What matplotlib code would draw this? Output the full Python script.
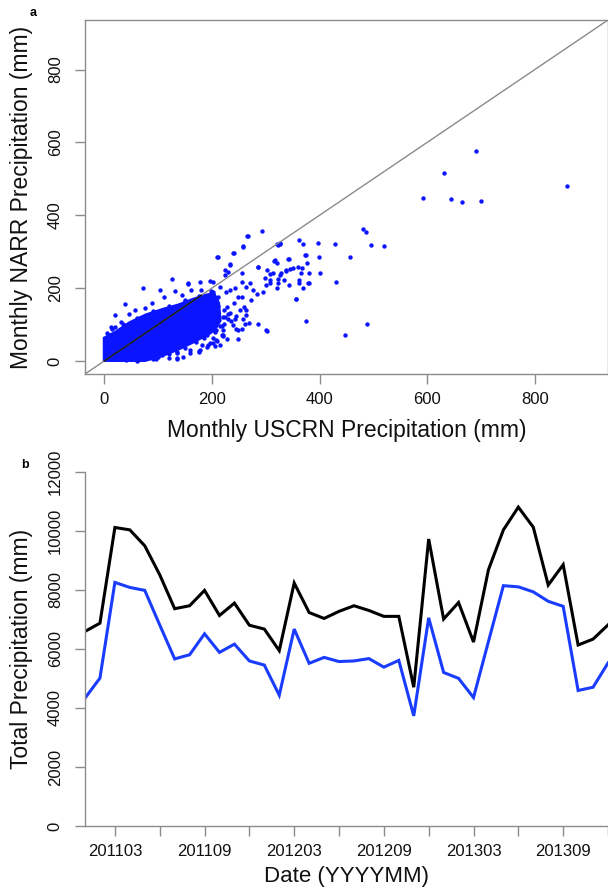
import matplotlib
matplotlib.use("Agg")
import matplotlib.pyplot as plt
import numpy as np

plt.rcParams['font.family'] = ['Liberation Sans', 'DejaVu Sans']

# ---- panel a: monthly USCRN vs NARR precipitation (mm) ----
# outline of the solid, saturated part of the point cloud
core_x = [-3, -3, 20, 45, 76, 107, 138, 162, 187, 205, 215, 218, 210, 199, 169, 138, 107, 76]
core_y = [-3, 65, 83, 108, 130, 145, 158, 172, 184, 190, 160, 110, 90, 74, 50, 28, 10, -3]

# individual points
pts_x = [691, 632, 860, 593, 645, 665, 700, 481, 486, 429, 397, 495, 520, 457, 399,
         373, 377, 381, 400, 430, 380, 370, 374, 489, 448,
         293, 266, 258, 239, 209, 234, 126, 72, 38, 19, 320, 326, 361, 369, 374,
         343, 315, 286, 345, 351, 360, 367, 329, 337, 307, 322, 298, 307, 378, 357,
         301, 286, 264, 255, 244, 221, 210, 201, 193, 176, 135, 135,
         13, 5, 20, 30, 45, 57, 76, 89, 111, 131, 104, 145, 161, 155, 180, 196,
         135, 135, 175, 181, 196, 202, 215, 218, 159, 107,
         267, 258, 240, 323, 327, 212, 233, 224, 230, 255, 285, 302, 317, 320, 342,
         338, 366, 314, 326, 333, 323, 300, 344, 361, 362, 307, 321, 295, 356, 303,
         268, 258, 273, 283, 276, 264, 255, 270, 259, 249, 243, 233, 221, 221,
         206, 190, 178, 207, 239, 227, 233, 215, 202, 224, 202, 178, 156, 196, 249,
         252, 264, 209, 172, 202, 184, 220, 228, 245, 212, 190, 168, 150, 236, 262,
         248, 226, 240, 218, 188, 230, 174, 242, 255, 160, 147, 120, 96, 62, 40,
         8, 15, 35, 60, 90, 120, 150, 175, 198, 212, 222, 225, 215, 205, 185,
         150, 120, 90, 60, 100, 170, 190, 208, 222, 230]
pts_y = [576, 516, 481, 448, 445, 435, 438, 363, 353, 320, 325, 318, 316, 286, 286,
         292, 270, 240, 240, 217, 214, 199, 110, 101, 71,
         358, 342, 314, 296, 285, 267, 226, 199, 157, 126, 320, 324, 332, 321, 291,
         279, 275, 258, 251, 256, 257, 255, 241, 247, 238, 225, 228, 213, 214, 170,
         84, 101, 127, 88, 88, 71, 55, 48, 45, 27, 5, 24,
         94, 76, 94, 108, 128, 140, 144, 160, 175, 192, 195, 181, 196, 210, 196, 219,
         21, 7, 25, 44, 48, 62, 44, 71, 21, 16,
         342, 315, 295, 318, 322, 286, 264, 249, 245, 242, 258, 249, 277, 269, 279,
         249, 240, 240, 236, 222, 213, 208, 208, 222, 213, 222, 199, 190, 169, 83,
         103, 114, 167, 185, 195, 204, 217, 213, 149, 176, 114, 131, 85, 67,
         41, 39, 30, 58, 99, 149, 195, 204, 217, 236, 190, 217, 213, 172, 85,
         140, 140, 121, 94, 85, 68, 120, 60, 122, 150, 160, 140, 168, 110, 100,
         60, 190, 160, 95, 110, 115, 70, 200, 175, 30, 12, 8, 4, 3, 2,
         72, 88, 100, 118, 138, 152, 165, 178, 192, 175, 140, 120, 96, 80, 62,
         36, 18, 5, 1, 12, 52, 70, 84, 100, 128]

# ---- panel b: total monthly precipitation over all stations (mm) ----
months = ['201101', '201102', '201103', '201104', '201105', '201106', '201107', '201108',
          '201109', '201110', '201111', '201112', '201201', '201202', '201203', '201204',
          '201205', '201206', '201207', '201208', '201209', '201210', '201211', '201212',
          '201301', '201302', '201303', '201304', '201305', '201306', '201307', '201308',
          '201309', '201310', '201311', '201312']
narr_total = [6590, 6870, 10110, 10030, 9490, 8510, 7360, 7460, 7980, 7130, 7550, 6800,
              6670, 5940, 8230, 7230, 7030, 7270, 7460, 7300, 7100, 7100, 4700, 9720,
              7010, 7570, 6230, 8680, 10030, 10800, 10120, 8160, 8850, 6130, 6330, 6810]
uscrn_total = [4330, 5010, 8250, 8080, 7980, 6810, 5660, 5800, 6510, 5880, 6160, 5590,
               5450, 4430, 6670, 5510, 5710, 5570, 5590, 5670, 5380, 5610, 3730, 7050,
               5200, 5000, 4350, 6250, 8140, 8100, 7930, 7610, 7440, 4590, 4700, 5520]

frame_col = '#8c8c8c'
pt_col = '#0a14ff'
text_col = '#111111'

fig = plt.figure(figsize=(6.08, 8.93), dpi=100)

# ---------- panel a ----------
ax1 = fig.add_axes([85 / 608, 1 - 374 / 893, 523 / 608, 354 / 893])
ax1.fill(core_x, core_y, color=pt_col, lw=0, zorder=2)
ax1.scatter(pts_x, pts_y, s=10, color=pt_col, linewidths=0, zorder=3)
ax1.plot([-100, 1000], [-100, 1000], color='#8a8a8a', lw=1.0, zorder=4)
# the 1:1 line reads as black where it crosses the solid cloud
edge = max(core_y) - 10
ax1.plot([0, edge], [0, edge], color='#111111', lw=1.0, zorder=5)
ax1.set_xlim(-36, 936)
ax1.set_ylim(-36, 936)
ax1.set_xticks([0, 200, 400, 600, 800])
ax1.set_yticks([0, 200, 400, 600, 800])
for s in ax1.spines.values():
    s.set_color(frame_col)
    s.set_linewidth(1.0)
ax1.tick_params(axis='both', length=7, width=1.0, color=frame_col, labelsize=12,
                labelcolor=text_col)
ax1.tick_params(axis='x', pad=6)
ax1.tick_params(axis='y', pad=9)
for t in ax1.get_yticklabels():
    t.set_rotation(90)
    t.set_va('center')
ax1.set_xlabel('Monthly USCRN Precipitation (mm)', fontsize=16.5, color=text_col)
ax1.set_ylabel('Monthly NARR Precipitation (mm)', fontsize=16.5, color=text_col, va='center')
ax1.xaxis.set_label_coords(0.5, -0.128)
ax1.yaxis.set_label_coords(-0.121, 0.5)
fig.text(33 / 608, 1 - 13 / 893, 'a', fontsize=9, fontweight='bold', ha='center', va='center')

# ---------- panel b ----------
ax2 = fig.add_axes([85 / 608, 1 - 826 / 893, 523 / 608, 354.3 / 893])
idx = np.arange(len(months))
ax2.plot(idx, narr_total, color='black', lw=2.2, solid_joinstyle='miter')
ax2.plot(idx, uscrn_total, color='#1a3cff', lw=2.2, solid_joinstyle='miter')
ax2.set_xlim(0, 34.8)
ax2.set_ylim(0, 12000)
ax2.set_yticks(range(0, 12001, 2000))
tick_idx = idx[2::3]
ax2.set_xticks(tick_idx)
ax2.set_xticklabels([months[i] if k % 2 == 0 else '' for k, i in enumerate(tick_idx)])
for side in ['top', 'right']:
    ax2.spines[side].set_visible(False)
ax2.spines['left'].set_bounds(0, 12000)
for side in ['left', 'bottom']:
    ax2.spines[side].set_color(frame_col)
    ax2.spines[side].set_linewidth(1.0)
ax2.tick_params(axis='both', length=7, width=1.0, color=frame_col, labelsize=12,
                labelcolor=text_col)
ax2.tick_params(axis='x', pad=6)
ax2.tick_params(axis='y', pad=9)
for t in ax2.get_yticklabels():
    t.set_rotation(90)
    t.set_va('center')
ax2.set_xlabel('Date (YYYYMM)', fontsize=16, color=text_col)
ax2.set_ylabel('Total Precipitation (mm)', fontsize=16.5, color=text_col, va='center')
ax2.xaxis.set_label_coords(0.5, -0.114)
ax2.yaxis.set_label_coords(-0.121, 0.5)
fig.text(25 / 608, 1 - 465 / 893, 'b', fontsize=9, fontweight='bold', ha='center', va='center')

fig.savefig('out.png', dpi=100)
